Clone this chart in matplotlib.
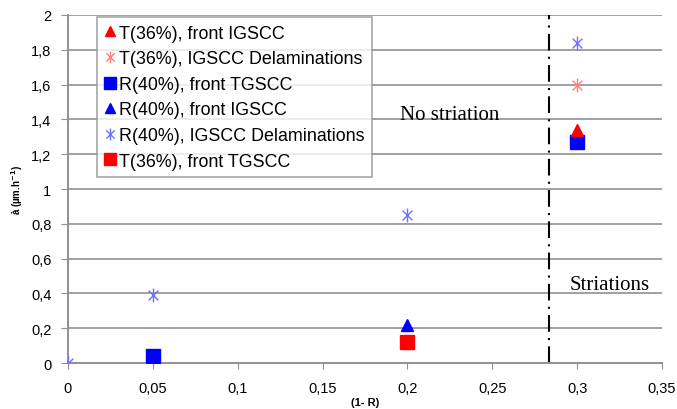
import numpy as np
import matplotlib
matplotlib.use("Agg")
import matplotlib.pyplot as plt
from matplotlib.path import Path

plt.rcParams.update({"font.family": "sans-serif", "font.sans-serif": ["Liberation Sans", "DejaVu Sans"]})

# data
t_ig_x = [0.3]; t_ig_y = [1.34]
t_del_x = [0.3]; t_del_y = [1.60]
r_tg_x = [0.05, 0.3]; r_tg_y = [0.04, 1.27]
r_ig_x = [0.2]; r_ig_y = [0.22]
r_del_x = [0.0, 0.05, 0.2, 0.3]; r_del_y = [0.0, 0.39, 0.85, 1.84]
t_tg_x = [0.2]; t_tg_y = [0.12]
boundary = 0.2835

xticks = [0, 0.05, 0.1, 0.15, 0.2, 0.25, 0.3, 0.35]
yticks = [0, 0.2, 0.4, 0.6, 0.8, 1.0, 1.2, 1.4, 1.6, 1.8, 2.0]

# excel-style asterisk: x plus vertical bar
d = 0.7071
star = Path([(-d, -d), (d, d), (-d, d), (d, -d), (0, -1), (0, 1)],
            [Path.MOVETO, Path.LINETO, Path.MOVETO, Path.LINETO, Path.MOVETO, Path.LINETO])

fig = plt.figure(figsize=(6.77, 4.10), dpi=100)
ax = fig.add_axes([0.1004, 0.112, 0.8776, 0.849])

for y in yticks[1:]:
    ax.axhline(y, color="#a0a0a0", lw=1.4, zorder=1)

ax.plot(t_ig_x, t_ig_y, ls="none", marker="^", ms=9, color="#ff0000", label="T(36%), front IGSCC", zorder=4)
ax.plot(t_del_x, t_del_y, ls="none", marker=star, ms=10, mew=1.0, color="#ff8080", mfc="none", label="T(36%), IGSCC Delaminations", zorder=4)
ax.plot(r_tg_x, r_tg_y, ls="none", marker="s", ms=10, color="#0000ff", label="R(40%), front TGSCC", zorder=3)
ax.plot(r_ig_x, r_ig_y, ls="none", marker="^", ms=9, color="#0000ff", label="R(40%), front IGSCC", zorder=4)
ax.plot(r_del_x, r_del_y, ls="none", marker=star, ms=10, mew=1.0, color="#7070ff", mfc="none", label="R(40%), IGSCC Delaminations", zorder=4)
ax.plot(t_tg_x, t_tg_y, ls="none", marker="s", ms=10, color="#ff0000", label="T(36%), front TGSCC", zorder=3)

ax.axvline(boundary, color="black", lw=1.5, ls=(0, (8, 3, 1, 3)), zorder=2)

ax.set_xlim(0, 0.35)
ax.set_ylim(0, 2)
ax.set_xticks(xticks)
ax.set_xticklabels([("%g" % v).replace(".", ",") for v in xticks], fontsize=10.5)
ax.set_yticks(yticks)
ax.set_yticklabels([("%g" % v).replace(".", ",") for v in yticks], fontsize=10.5)
ax.set_xlabel("(1- R)", fontsize=8, fontweight="bold", labelpad=1)
ax.set_ylabel("à (µm.h$^{\\mathbf{-1}}$)", fontsize=7, fontweight="bold", labelpad=4)
for s in ["top", "right"]:
    ax.spines[s].set_visible(False)
for s in ["left", "bottom"]:
    ax.spines[s].set_color("#909090")
    ax.spines[s].set_linewidth(1.4)
ax.tick_params(axis="y", direction="out", length=5, color="#909090", pad=7)
ax.tick_params(axis="x", direction="out", length=4, color="#909090", pad=9)
ax.set_clip_on(False)

ax.text(0.1958, 1.428, "No striation", family="Liberation Serif", fontsize=15, va="center", ha="left", zorder=5)
ax.text(0.2955, 0.452, "Striations", family="Liberation Serif", fontsize=15, va="center", ha="left", zorder=5)

leg = ax.legend(loc="upper left", bbox_to_anchor=(0.049, 0.994), fontsize=12.9, frameon=True, fancybox=False,
                edgecolor="#909090", handlelength=0.65, handletextpad=0.15, borderpad=0.42, labelspacing=0.48,
                borderaxespad=0, markerscale=0.85)
leg.get_frame().set_linewidth(1.2)
leg.set_zorder(6)

fig.savefig("out.png", dpi=100)
